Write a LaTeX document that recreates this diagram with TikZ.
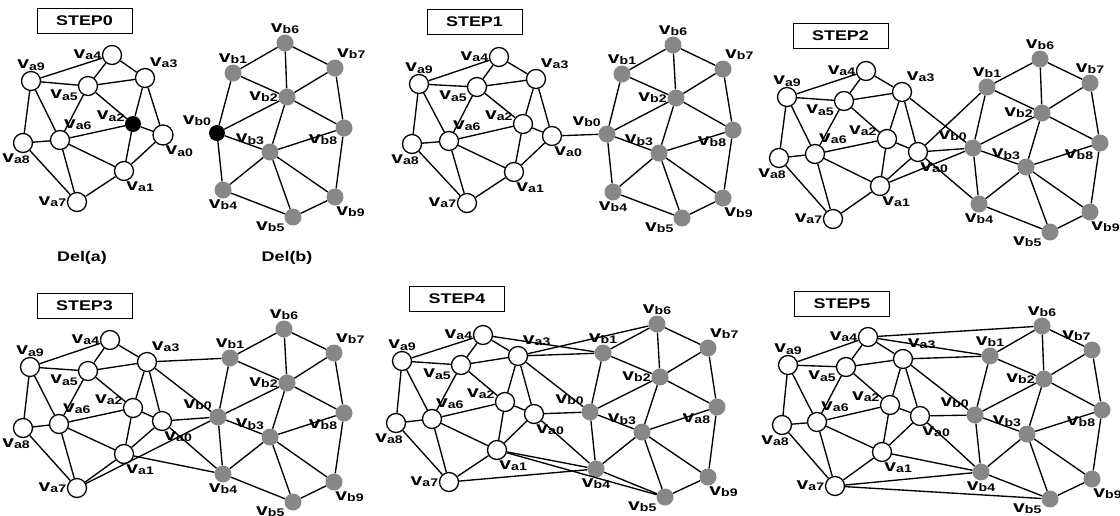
\documentclass[tikz,border=0pt]{standalone}
\usepackage{fontspec}
\newfontfamily\figfont{Liberation Sans}[FakeStretch=1.28]
\definecolor{vgray}{RGB}{135,135,135}
\newcommand\vlab[2]{{\fontsize{16.5}{16}\selectfont v}\raisebox{-1.3pt}{\fontsize{11}{11}\selectfont #1#2}}
\newcommand\aedges{a9/a4,a4/a5,a4/a3,a9/a5,a5/a3,a9/a8,a9/a6,a5/a6,a5/a2,a3/a2,a3/a0,a2/a0,a2/a6,a2/a1,a6/a8,a6/a1,a6/a7,a8/a7,a7/a1,a1/a0}
\newcommand\bedges{b1/b6,b6/b7,b6/b2,b1/b2,b7/b2,b1/b0,b2/b0,b2/b3,b2/b8,b7/b8,b0/b3,b0/b4,b3/b8,b3/b4,b3/b5,b3/b9,b8/b9,b4/b5,b5/b9}
\tikzset{
  va/.style={circle,draw,fill=white,line width=1.3pt,minimum size=19pt,inner sep=0pt},
  vb/.style={circle,fill=vgray,minimum size=17pt,inner sep=0pt},
  vk/.style={circle,fill=black,minimum size=16pt,inner sep=0pt},
  edge/.style={line width=1.35pt},
  lbl/.style={inner sep=0.5pt,font=\figfont\bfseries},
  stepbox/.style={draw,line width=0.9pt,minimum width=95pt,minimum height=25pt,inner sep=0pt,font=\figfont\bfseries\fontsize{14}{14}\selectfont},
  deltext/.style={font=\figfont\bfseries\fontsize{14}{14}\selectfont},
  % label place of each vertex
  la0/.style={label={[lbl]-80:\vlab{a}{0}}},
  la1/.style={label={[lbl]-80:\vlab{a}{1}}},
  la2/.style={label={[lbl]165:\vlab{a}{2}}},
  la3/.style={label={[lbl]65:\vlab{a}{3}}},
  la4/.style={label={[lbl]180:\vlab{a}{4}}},
  la5/.style={label={[lbl]200:\vlab{a}{5}}},
  la6/.style={label={[lbl]70:\vlab{a}{6}}},
  la7/.style={label={[lbl]180:\vlab{a}{7}}},
  la8/.style={label={[lbl,xshift=-7pt]below:\vlab{a}{8}}},
  la9/.style={label={[lbl]90:\vlab{a}{9}}},
  lb0/.style={label={[lbl]130:\vlab{b}{0}}},
  lb1/.style={label={[lbl]90:\vlab{b}{1}}},
  lb2/.style={label={[lbl]180:\vlab{b}{2}}},
  lb3/.style={label={[lbl]127:\vlab{b}{3}}},
  lb4/.style={label={[lbl]-90:\vlab{b}{4}}},
  lb5/.style={label={[lbl]-155:\vlab{b}{5}}},
  lb6/.style={label={[lbl]90:\vlab{b}{6}}},
  lb7/.style={label={[lbl]80:\vlab{b}{7}}},
  lb8/.style={label={[lbl]-135:\vlab{b}{8}}},
  lb9/.style={label={[lbl]-85:\vlab{b}{9}}},
}
\begin{document}
\begin{tikzpicture}[x=1pt,y=-1pt]
\useasboundingbox (0,0) rectangle (1120,515);
% STEP0
\node[stepbox] (step0) at (84.5,21) {STEP0};
\node[va,la4] (s0a4) at (112,55) {};
\node[va,la3] (s0a3) at (145,78) {};
\node[va,la9] (s0a9) at (31,81) {};
\node[va,la5] (s0a5) at (88,86) {};
\node[vk,la2] (s0a2) at (133,124) {};
\node[va,la0,minimum size=20pt] (s0a0) at (163,135) {};
\node[va,la6] (s0a6) at (60,140) {};
\node[va,la8] (s0a8) at (23,143) {};
\node[va,la1] (s0a1) at (124,171) {};
\node[va,la7] (s0a7) at (77,202) {};
\node[vb,lb6] (s0b6) at (285,43) {};
\node[vb,lb1] (s0b1) at (233,73) {};
\node[vb,lb7] (s0b7) at (335,68) {};
\node[vb,lb2] (s0b2) at (287,97) {};
\node[vb,lb8] (s0b8) at (344,128) {};
\node[vk,lb0] (s0b0) at (217,133) {};
\node[vb,lb3] (s0b3) at (270,152) {};
\node[vb,lb4] (s0b4) at (223,190) {};
\node[vb,lb9] (s0b9) at (335,197) {};
\node[vb,lb5] (s0b5) at (293,217) {};
\node[deltext] (dela) at (82,258) {Del(a)};
\node[deltext] (delb) at (287,258) {Del(b)};
% STEP1
\node[stepbox] (step1) at (474.5,21.5) {STEP1};
\node[va,la4] (s1a4) at (499,57) {};
\node[va,la3] (s1a3) at (536,79) {};
\node[va,la9] (s1a9) at (419,84) {};
\node[va,la5] (s1a5) at (477,87) {};
\node[va,la2] (s1a2) at (523,124) {};
\node[va,la0] (s1a0) at (552,136) {};
\node[va,la6] (s1a6) at (449,141) {};
\node[va,la8] (s1a8) at (412,144) {};
\node[va,la1] (s1a1) at (514,172) {};
\node[va,la7] (s1a7) at (467,203) {};
\node[vb,lb6] (s1b6) at (673,45) {};
\node[vb,lb1] (s1b1) at (622,74) {};
\node[vb,lb7] (s1b7) at (723,69) {};
\node[vb,lb2] (s1b2) at (676,98) {};
\node[vb,lb8] (s1b8) at (733,130) {};
\node[vb,lb0] (s1b0) at (607,134) {};
\node[vb,lb3] (s1b3) at (659,153) {};
\node[vb,lb4] (s1b4) at (613,192) {};
\node[vb,lb9] (s1b9) at (723,198) {};
\node[vb,lb5] (s1b5) at (682,218) {};
% STEP2
\node[stepbox] (step2) at (840.5,35.5) {STEP2};
\node[va,la4] (s2a4) at (866,71) {};
\node[va,la3] (s2a3) at (902,92) {};
\node[va,la9] (s2a9) at (787,97) {};
\node[va,la5] (s2a5) at (844,101) {};
\node[va,la2] (s2a2) at (887,139) {};
\node[va,la0] (s2a0) at (918,152) {};
\node[va,la6] (s2a6) at (815,154) {};
\node[va,la8] (s2a8) at (779,158) {};
\node[va,la1] (s2a1) at (880,186) {};
\node[va,la7] (s2a7) at (833,219) {};
\node[vb,lb6] (s2b6) at (1040,59) {};
\node[vb,lb1] (s2b1) at (987,87) {};
\node[vb,label={[lbl]90:\vlab{b}{7}}] (s2b7) at (1090,83) {};
\node[vb,lb2] (s2b2) at (1042,113) {};
\node[vb,lb8] (s2b8) at (1100,143) {};
\node[vb,lb0] (s2b0) at (973,148) {};
\node[vb,lb3] (s2b3) at (1026,167) {};
\node[vb,lb4] (s2b4) at (979,204) {};
\node[vb,lb9] (s2b9) at (1090,212) {};
\node[vb,lb5] (s2b5) at (1050,232) {};
% STEP3
\node[stepbox] (step3) at (84.5,305.5) {STEP3};
\node[va,la4] (s3a4) at (110,340) {};
\node[va,la3] (s3a3) at (147,362) {};
\node[va,la9] (s3a9) at (30,367) {};
\node[va,la5] (s3a5) at (88,371) {};
\node[va,la2] (s3a2) at (133,408) {};
\node[va,la0] (s3a0) at (162,421) {};
\node[va,la6] (s3a6) at (59,424) {};
\node[va,la8] (s3a8) at (23,428) {};
\node[va,la1] (s3a1) at (124,454) {};
\node[va,la7] (s3a7) at (77,488) {};
\node[vb,lb6] (s3b6) at (284,329) {};
\node[vb,lb1] (s3b1) at (230,358) {};
\node[vb,lb7] (s3b7) at (334,353) {};
\node[vb,lb2] (s3b2) at (287,383) {};
\node[vb,lb8] (s3b8) at (344,413) {};
\node[vb,lb0] (s3b0) at (218,417) {};
\node[vb,lb3] (s3b3) at (270,437) {};
\node[vb,lb4] (s3b4) at (223,474) {};
\node[vb,lb9] (s3b9) at (334,482) {};
\node[vb,lb5] (s3b5) at (293,502) {};
% STEP4
\node[stepbox] (step4) at (457,299) {STEP4};
\node[va,la4] (s4a4) at (483,335) {};
\node[va,la3] (s4a3) at (518,356) {};
\node[va,la9] (s4a9) at (402,361) {};
\node[va,la5] (s4a5) at (461,365) {};
\node[va,la2] (s4a2) at (505,402) {};
\node[va,la0] (s4a0) at (534,414) {};
\node[va,la6] (s4a6) at (432,419) {};
\node[va,la8] (s4a8) at (396,423) {};
\node[va,la1] (s4a1) at (497,450) {};
\node[va,la7] (s4a7) at (449,482) {};
\node[vb,lb6] (s4b6) at (657,324) {};
\node[vb,lb1] (s4b1) at (603,353) {};
\node[vb,lb7] (s4b7) at (708,348) {};
\node[vb,lb2] (s4b2) at (660,377) {};
\node[vb,label={[lbl]-135:\vlab{a}{8}}] (s4b8) at (717,407) {};
\node[vb,lb0] (s4b0) at (590,412) {};
\node[vb,lb3] (s4b3) at (642,432) {};
\node[vb,lb4] (s4b4) at (596,469) {};
\node[vb,lb9] (s4b9) at (708,477) {};
\node[vb,lb5] (s4b5) at (665,497) {};
% STEP5
\node[stepbox] (step5) at (842,304) {STEP5};
\node[va,la4] (s5a4) at (868,337) {};
\node[va,la3] (s5a3) at (903,359) {};
\node[va,la9] (s5a9) at (788,365) {};
\node[va,la5] (s5a5) at (846,367) {};
\node[va,la2] (s5a2) at (890,405) {};
\node[va,la0] (s5a0) at (920,416) {};
\node[va,la6] (s5a6) at (817,422) {};
\node[va,la8] (s5a8) at (782,425) {};
\node[va,la1] (s5a1) at (882,452) {};
\node[va,la7] (s5a7) at (835,486) {};
\node[vb,lb6] (s5b6) at (1042,326) {};
\node[vb,lb1] (s5b1) at (990,356) {};
\node[vb,label={[lbl]95:\vlab{b}{7}}] (s5b7) at (1092,350) {};
\node[vb,lb2] (s5b2) at (1044,379) {};
\node[vb,lb8] (s5b8) at (1102,410) {};
\node[vb,lb0] (s5b0) at (975,415) {};
\node[vb,lb3] (s5b3) at (1027,434) {};
\node[vb,lb4] (s5b4) at (981,472) {};
\node[vb,lb9] (s5b9) at (1092,479) {};
\node[vb,lb5] (s5b5) at (1050,499) {};
% edges inside Del(a) and Del(b)
\foreach \s in {0,...,5} {
  \foreach \u/\v in \aedges \draw[edge] (s\s\u) -- (s\s\v);
  \foreach \u/\v in \bedges \draw[edge] (s\s\u) -- (s\s\v);
}
% merge edges
\draw[edge] (s1a0) -- (s1b0);
\foreach \u/\v in {a0/b0,a0/b1,a3/b0,a1/b0,a0/b4} \draw[edge] (s2\u) -- (s2\v);
\foreach \u/\v in {a3/b1,a3/b0,a0/b0,a7/b0,a1/b4,a0/b4} \draw[edge] (s3\u) -- (s3\v);
\foreach \u/\v in {a4/b1,a3/b6,a3/b1,a3/b0,a0/b0,a0/b4,a1/b4,a1/b5,a7/b4} \draw[edge] (s4\u) -- (s4\v);
\foreach \u/\v in {a4/b6,a4/b1,a3/b1,a3/b0,a0/b0,a0/b4,a1/b4,a7/b4,a7/b5} \draw[edge] (s5\u) -- (s5\v);
\end{tikzpicture}
\end{document}
